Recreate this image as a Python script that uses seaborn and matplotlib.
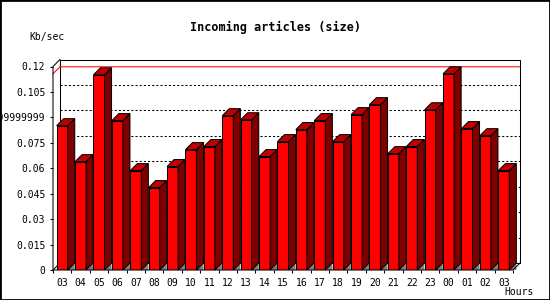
import numpy as np
import pandas as pd
import matplotlib
matplotlib.use("Agg")
import matplotlib.pyplot as plt
from matplotlib.patches import Polygon, Rectangle
from matplotlib.lines import Line2D
import seaborn as sns

# ---- data ----
hours = ["03", "04", "05", "06", "07", "08", "09", "10", "11", "12", "13", "14", "15",
         "16", "17", "18", "19", "20", "21", "22", "23", "00", "01", "02", "03"]
kb_per_sec = [0.0851, 0.0639, 0.1151, 0.0881, 0.0586, 0.0486, 0.0610, 0.0710, 0.0728,
              0.0910, 0.0886, 0.0669, 0.0757, 0.0828, 0.0881, 0.0757, 0.0916, 0.0975,
              0.0686, 0.0728, 0.0945, 0.1157, 0.0834, 0.0792, 0.0586]
ytick_values = [0, 0.015, 0.03, 0.045, 0.06, 0.075, 0.09, 0.105, 0.12]
ytick_labels = ["0", "0.015", "0.03", "0.045", "0.06", "0.075", "0.0899999999", "0.105", "0.12"]
title = "Incoming articles (size)"
ylabel = "Kb/sec"
xlabel = "Hours"

plt.rcParams['font.family'] = ['DejaVu Sans Mono', 'DejaVu Sans']

W, H = 550, 300
fig = plt.figure(figsize=(W / 100, H / 100), dpi=100)
fig.patch.set_facecolor("white")
ax_left, ax_bottom, ax_w, ax_h = 53, 30, 460, 203.5
ax = fig.add_axes([ax_left / W, ax_bottom / H, ax_w / W, ax_h / H])
ax.set_facecolor("none")

n = len(kb_per_sec)
df = pd.DataFrame({"slot": list(range(n)), "kb": kb_per_sec})
sns.barplot(data=df, x="slot", y="kb", color="#ff0000", saturation=1, width=0.6,
            edgecolor="black", linewidth=0.75, ax=ax, zorder=3)

ymax = ytick_values[-1]
ax.set_xlim(-0.5, n - 0.5)
ax.set_ylim(0, ymax)

# depth of the pseudo-3D effect (7 px right, 7 px up) in data units
depth_px = 7
dx = depth_px * (n / ax_w)
dy = depth_px * (ymax / ax_h)

x_lo, x_hi = -0.5, n - 0.5
lw = 0.75
# back wall
ax.add_patch(Polygon([(x_lo + dx, dy), (x_lo + dx, ymax + dy), (x_hi + dx, ymax + dy), (x_hi + dx, dy)],
                     closed=True, facecolor="white", edgecolor="black", lw=lw, zorder=1, clip_on=False))
# grid lines on back wall
for v in ytick_values[1:-1]:
    ax.add_line(Line2D([x_lo + dx, x_hi + dx], [v + dy, v + dy], color="black", lw=lw,
                       linestyle=(0, (2, 2)), zorder=1.5, clip_on=False))
# max line
vmax = max(kb_per_sec)
ax.add_line(Line2D([x_lo, x_lo + dx, x_hi + dx], [vmax, vmax + dy, vmax + dy], color="#ff0000",
                   lw=lw, zorder=1.6, clip_on=False))
# frame: front axes and side diagonals
ax.add_line(Line2D([x_lo + dx, x_lo, x_lo, x_hi, x_hi + dx], [ymax + dy, ymax, 0, 0, dy],
                   color="black", lw=lw, zorder=4, clip_on=False))
ax.add_line(Line2D([x_lo, x_lo + dx], [0, dy], color="black", lw=lw, zorder=1.7, clip_on=False))

# 3D faces
for p in list(ax.patches):
    if p.get_zorder() != 3:
        continue
    x0, w, h = p.get_x(), p.get_width(), p.get_height()
    x1 = x0 + w
    ax.add_patch(Polygon([(x1, 0), (x1 + dx, dy), (x1 + dx, 0)], closed=True,
                         facecolor="#808080", edgecolor="none", zorder=2, clip_on=False))
    ax.add_patch(Polygon([(x1, 0), (x1, h), (x1 + dx, h + dy), (x1 + dx, dy)], closed=True,
                         facecolor="#800000", edgecolor="black", lw=lw, zorder=3, clip_on=False))
    ax.add_patch(Polygon([(x0, h), (x1, h), (x1 + dx, h + dy), (x0 + dx, h + dy)], closed=True,
                         facecolor="#c00000", edgecolor="black", lw=lw, zorder=3, clip_on=False))

for s in ax.spines.values():
    s.set_visible(False)

ax.set_xticks(range(n))
ax.set_xticklabels(hours)
ax.set_xticks(np.arange(-0.5, n, 1.0), minor=True)
ax.tick_params(axis="x", which="major", length=0, pad=5.5, labelsize=7)
ax.tick_params(axis="x", which="minor", length=2.5, width=lw, direction="out")
ax.set_yticks(ytick_values)
ax.set_yticklabels(ytick_labels)
ax.tick_params(axis="y", length=2.5, width=lw, pad=3, labelsize=7, direction="out")
ax.set_xlabel("")
ax.set_ylabel("")

fig.text(0.5, 1 - 27 / H, title, ha="center", va="center", fontsize=8.5, fontweight="bold")
fig.text(47.5 / W, 1 - 37 / H, ylabel, ha="center", va="center", fontsize=7)
fig.text(519 / W, 1 - 292 / H, xlabel, ha="center", va="center", fontsize=7)

fig.add_artist(Rectangle((0, 0), 1, 1, transform=fig.transFigure, fill=False,
                         edgecolor="black", lw=2))

fig.savefig("out.png", dpi=100)
